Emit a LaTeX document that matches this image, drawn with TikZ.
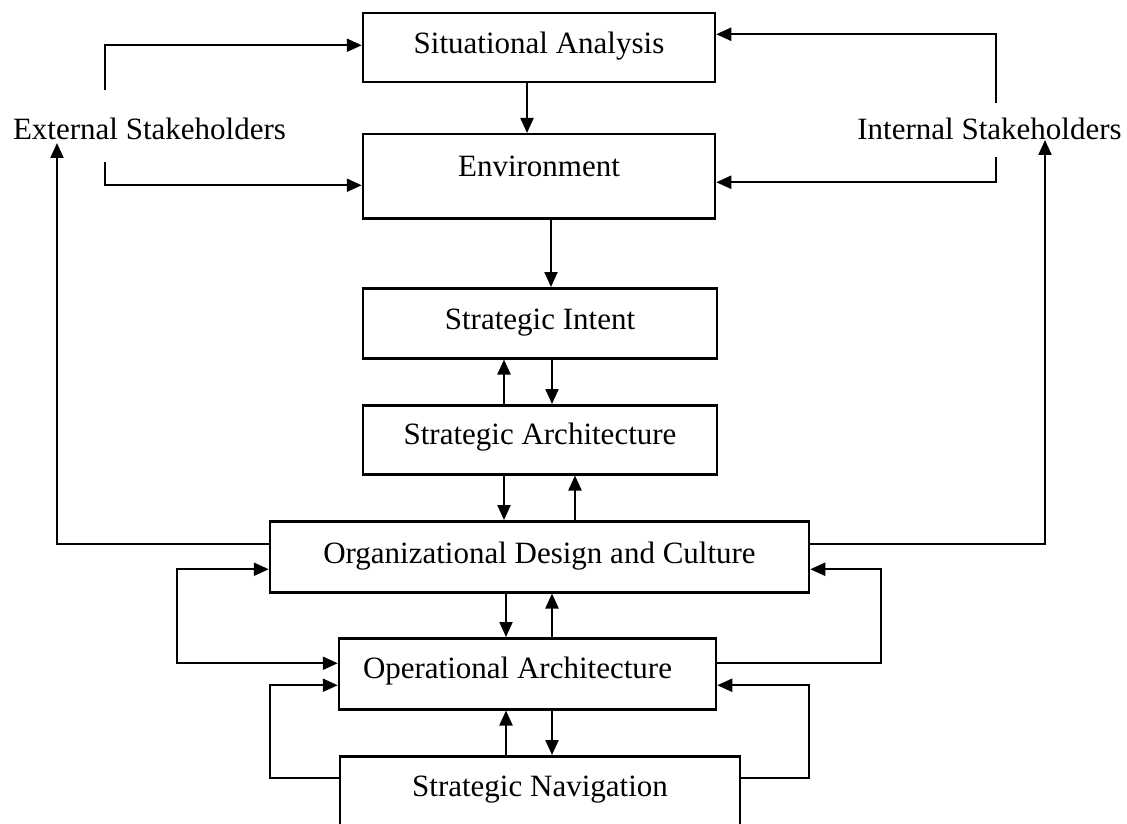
\documentclass[tikz,border=0pt]{standalone}
\usepackage{fontspec}
\setmainfont{Liberation Serif}
\usetikzlibrary{arrows.meta}
\begin{document}
\begin{tikzpicture}[x=1pt,y=-1pt,
  box/.style={draw, line width=2.5pt, inner xsep=0pt, inner ysep=0pt, anchor=north, font=\fontsize{31}{36}\selectfont},
  lbl/.style={inner sep=0pt, anchor=base, font=\fontsize{31}{36}\selectfont},
  conn/.style={line width=2.2pt, -{Triangle[length=15pt,width=13pt]}},
  conntwo/.style={line width=2.2pt, {Triangle[length=15pt,width=13pt]}-{Triangle[length=15pt,width=13pt]}}
]
\useasboundingbox (0,0) rectangle (1127,824);
\clip (0,0) rectangle (1127,824);
\fill[white] (0,0) rectangle (1127,824);

% boxes
\node[box, minimum width=352pt, text height=40pt, text depth=29pt] (sa) at (539,12) {Situational Analysis};
\node[box, minimum width=352pt, text height=42pt, text depth=42pt] (env) at (539,133) {Environment};
\node[box, minimum width=354pt, text height=41pt, text depth=29pt] (si) at (540,287) {Strategic Intent};
\node[box, minimum width=354pt, text height=39pt, text depth=30pt] (sarch) at (540,404) {Strategic Architecture};
\node[box, minimum width=539pt, text height=42pt, text depth=29pt] (org) at (539.5,520) {Organizational Design and Culture};
\node[box, minimum width=377pt, text height=40pt, text depth=31pt] (oa) at (527.5,637) {Operational Architecture\hspace*{20pt}};
\node[box, minimum width=400pt, text height=40pt, text depth=90pt] (sn) at (540,755) {Strategic Navigation};

% stakeholder labels
\node[lbl] (ext) at (149.5,140) {External Stakeholders};
\node[lbl] (int) at (989.5,140) {Internal Stakeholders};

% column coordinates
\coordinate (c1) at (527,0);
\coordinate (c2) at (551,0);
\coordinate (c3) at (504,0);
\coordinate (c4) at (552,0);
\coordinate (c5) at (575,0);
\coordinate (c6) at (506,0);

% vertical connectors
\draw[conn] (sa.south -| c1) -- (env.north -| c1);
\draw[conn] (env.south -| c2) -- (si.north -| c2);
\draw[conn] (sarch.north -| c3) -- (si.south -| c3);
\draw[conn] (si.south -| c4) -- (sarch.north -| c4);
\draw[conn] (sarch.south -| c3) -- (org.north -| c3);
\draw[conn] (org.north -| c5) -- (sarch.south -| c5);
\draw[conn] (org.south -| c6) -- (oa.north -| c6);
\draw[conn] (oa.north -| c4) -- (org.south -| c4);
\draw[conn] (sn.north -| c6) -- (oa.south -| c6);
\draw[conn] (oa.south -| c4) -- (sn.north -| c4);

% stakeholder brackets
\coordinate (e1) at (105,90);
\coordinate (e2) at (105,162);
\coordinate (i1) at (996,103);
\coordinate (i2) at (996,157);
\draw[conn] (e1) |- ([yshift=2.5pt]sa.west);
\draw[conn] (e2) |- ([yshift=-9pt]env.west);
\draw[conn] (i1) |- ([yshift=13.5pt]sa.east);
\draw[conn] (i2) |- ([yshift=-6pt]env.east);

% feedback from organization to stakeholders
\coordinate (et) at (57,143);
\coordinate (it) at (1045,140);
\draw[conn] ([yshift=12.5pt]org.west) -| (et);
\draw[conn] ([yshift=12.5pt]org.east) -| (it);

% loops
\coordinate (l1) at (177,600);
\coordinate (r1) at (881,600);
\coordinate (l2) at (270,730);
\coordinate (r2) at (809,730);
\draw[conntwo] ([yshift=-12.5pt]org.west) -| (l1) |- ([yshift=10.5pt]oa.west);
\draw[conn] ([yshift=10.5pt]oa.east) -| (r1) |- ([yshift=-12.5pt]org.east);
\draw[conn] ([yshift=-23pt]sn.north west) -| (l2) |- ([yshift=-11.5pt]oa.west);
\draw[conn] ([yshift=-23pt]sn.north east) -| (r2) |- ([yshift=-11.5pt]oa.east);
\end{tikzpicture}
\end{document}
